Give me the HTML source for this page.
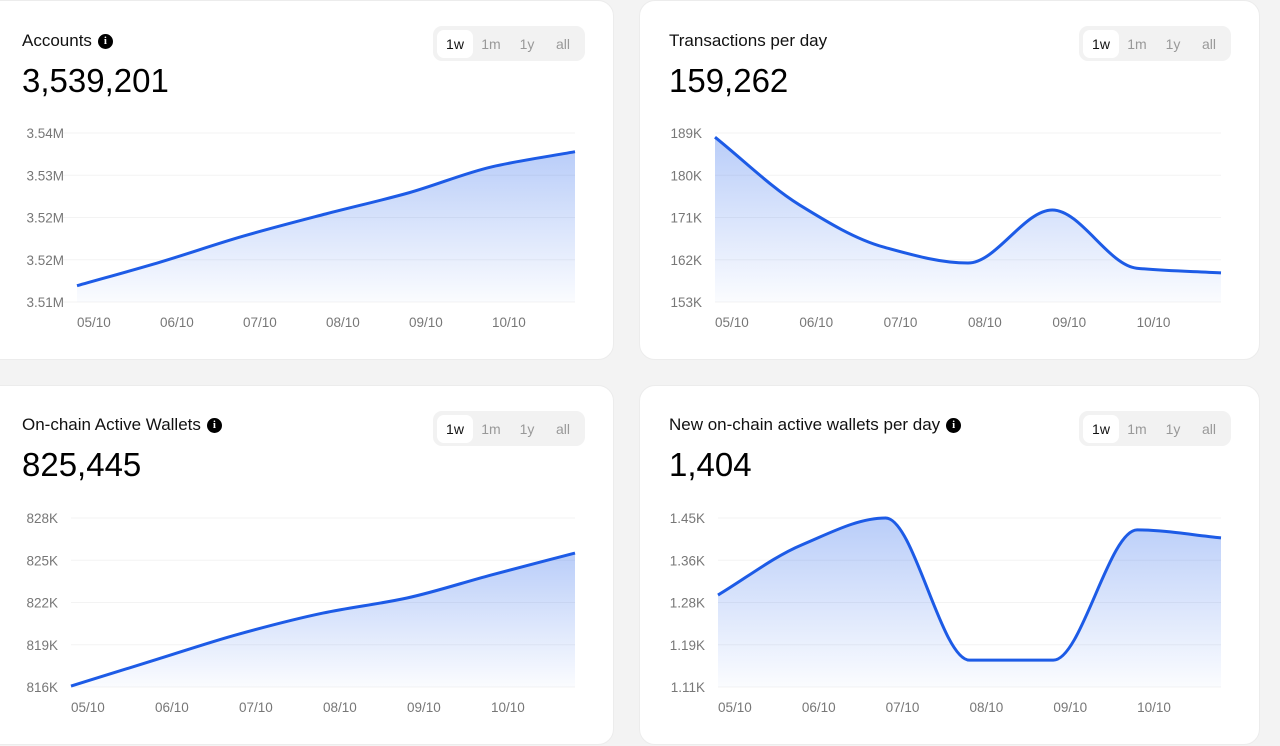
<!DOCTYPE html>
<html><head><meta charset="utf-8"><style>
body{margin:0;width:1280px;height:746px;background:#f3f3f3;font-family:"Liberation Sans",sans-serif;position:relative;overflow:hidden}
.card{position:absolute;background:#fff;border-radius:16px;border:1px solid #ececec;box-sizing:border-box}
.title{position:absolute;font-size:17px;color:#111;display:flex;align-items:center;gap:6px}
.info{width:15px;height:15px;border-radius:50%;background:#000;color:#fff;font-size:11px;font-weight:bold;display:inline-flex;align-items:center;justify-content:center;font-family:"Liberation Serif",serif}
.num{position:absolute;font-size:33px;color:#000}
.tog{position:absolute;width:152px;height:35px;background:#f2f2f2;border-radius:9px}
.tog span{position:absolute;top:4px;height:28px;line-height:28px;font-size:14px;color:#999;text-align:center;width:36px}
.tog span.on{background:#fff;color:#111;border-radius:7px}
svg{position:absolute;left:0;top:0}
</style></head><body>
<div class="card" style="left:-20px;top:0;width:634px;height:360px"></div>
<div class="card" style="left:639px;top:0;width:621px;height:360px"></div>
<div class="card" style="left:-20px;top:385px;width:634px;height:360px"></div>
<div class="card" style="left:639px;top:385px;width:621px;height:360px"></div>

<div class="title" style="left:22px;top:31px">Accounts <span class="info">i</span></div>
<div class="num" style="left:22px;top:62px">3,539,201</div>
<div class="title" style="left:669px;top:31px">Transactions per day</div>
<div class="num" style="left:669px;top:62px">159,262</div>
<div class="title" style="left:22px;top:415px">On-chain Active Wallets <span class="info">i</span></div>
<div class="num" style="left:22px;top:446px">825,445</div>
<div class="title" style="left:669px;top:415px">New on-chain active wallets per day <span class="info">i</span></div>
<div class="num" style="left:669px;top:446px">1,404</div>

<div id="togs"></div>
<svg id="svg" width="1280" height="746"></svg>
<script>
const xLabels=["05/10","06/10","07/10","08/10","09/10","10/10"];
const accVals=[3.5147,3.5186,3.5229,3.5266,3.5301,3.5344,3.5369];
const accTicks=["3.51M","3.52M","3.52M","3.53M","3.54M"];
const txVals=[188.1,173.7,164.7,161.3,172.6,160.2,159.2];
const txTicks=["153K","162K","171K","180K","189K"];
const awVals=[816.07,817.92,819.76,821.25,822.32,823.95,825.51];
const awTicks=["816K","819K","822K","825K","828K"];
const nwVals=[1.295,1.396,1.45,1.164,1.164,1.426,1.41];
const nwTicks=["1.11K","1.19K","1.28K","1.36K","1.45K"];

const charts=[
 {name:"accounts",vals:accVals,ticks:accTicks,min:3.512,max:3.540,x0:77,x1:575,gx0:62,y0:302,y1:133,lx:64,tog:[433,26]},
 {name:"transactions",vals:txVals,ticks:txTicks,min:153,max:189,x0:715,x1:1221,gx0:715,y0:302,y1:133,lx:702,tog:[1079,26]},
 {name:"active-wallets",vals:awVals,ticks:awTicks,min:816,max:828,x0:71,x1:575,gx0:71,y0:687,y1:518,lx:58,tog:[433,411]},
 {name:"new-wallets",vals:nwVals,ticks:nwTicks,min:1.11,max:1.45,x0:718,x1:1221,gx0:718,y0:687,y1:518,lx:705,tog:[1079,411]}
];
const NS="http://www.w3.org/2000/svg";
const svg=document.getElementById('svg');
const defs=document.createElementNS(NS,'defs');
defs.innerHTML='<linearGradient id="g" x1="0" y1="0" x2="0" y2="1"><stop offset="0" stop-color="#2563eb" stop-opacity="0.32"/><stop offset="1" stop-color="#2563eb" stop-opacity="0.02"/></linearGradient>';
svg.appendChild(defs);
function mk(t,a){const e=document.createElementNS(NS,t);for(const k in a)e.setAttribute(k,a[k]);svg.appendChild(e);return e;}
function monotone(pts){
 const n=pts.length,dx=[],m=[],t=[];
 for(let i=0;i<n-1;i++){dx[i]=pts[i+1][0]-pts[i][0];m[i]=(pts[i+1][1]-pts[i][1])/dx[i];}
 t[0]=m[0];t[n-1]=m[n-2];
 for(let i=1;i<n-1;i++){ if(m[i-1]*m[i]<=0)t[i]=0; else {const h0=dx[i-1],h1=dx[i];t[i]=(3*(h0+h1))/((2*h1+h0)/m[i-1]+(h1+2*h0)/m[i]);}}
 let d="M"+pts[0][0]+","+pts[0][1];
 for(let i=0;i<n-1;i++){const h=dx[i]/3;d+=" C"+(pts[i][0]+h)+","+(pts[i][1]+t[i]*h)+" "+(pts[i+1][0]-h)+","+(pts[i+1][1]-t[i+1]*h)+" "+pts[i+1][0]+","+pts[i+1][1];}
 return d;
}
const togs=document.getElementById('togs');
charts.forEach(c=>{
 const ys=v=>c.y0+(v-c.min)/(c.max-c.min)*(c.y1-c.y0);
 const step=(c.x1-c.x0)/(c.vals.length-1);
 const xs=i=>c.x0+i*step;
 c.ticks.forEach((t,i)=>{
  const y=c.y0+i*(c.y1-c.y0)/(c.ticks.length-1);
  const gl=mk('line',{x1:c.gx0,x2:c.x1,y1:y,y2:y,stroke:'#f3f3f3','stroke-width':1});
  
  
  const tx=mk('text',{x:c.lx,y:y+5,'text-anchor':'end','font-size':13.5,fill:'#777'});
  tx.textContent=t;
  
  
 });
 xLabels.forEach((l,i)=>{
  const tx=mk('text',{x:xs(i),y:c.y0+25,'font-size':13.5,fill:'#777'});
  tx.textContent=l;
  
  
 });
 const pts=c.vals.map((v,i)=>[xs(i),ys(v)]);
 const d=monotone(pts);
 const area=mk('path',{d:d+" L"+c.x1+","+c.y0+" L"+c.x0+","+c.y0+" Z",fill:'url(#g)'});
 
 
 const line=mk('path',{d:d,fill:'none',stroke:'#1d5be6','stroke-width':3});
 
 
 const tg=document.createElement('div');
 tg.className='tog';tg.style.left=c.tog[0]+'px';tg.style.top=c.tog[1]+'px';
 
 
 ["1w","1m","1y","all"].forEach((l,i)=>{
  const s=document.createElement('span');s.textContent=l;s.style.left=(4+i*36)+'px';
  if(i==0)s.className='on';
  
  
  tg.appendChild(s);
 });
 togs.appendChild(tg);
});
</script>
</body></html>
